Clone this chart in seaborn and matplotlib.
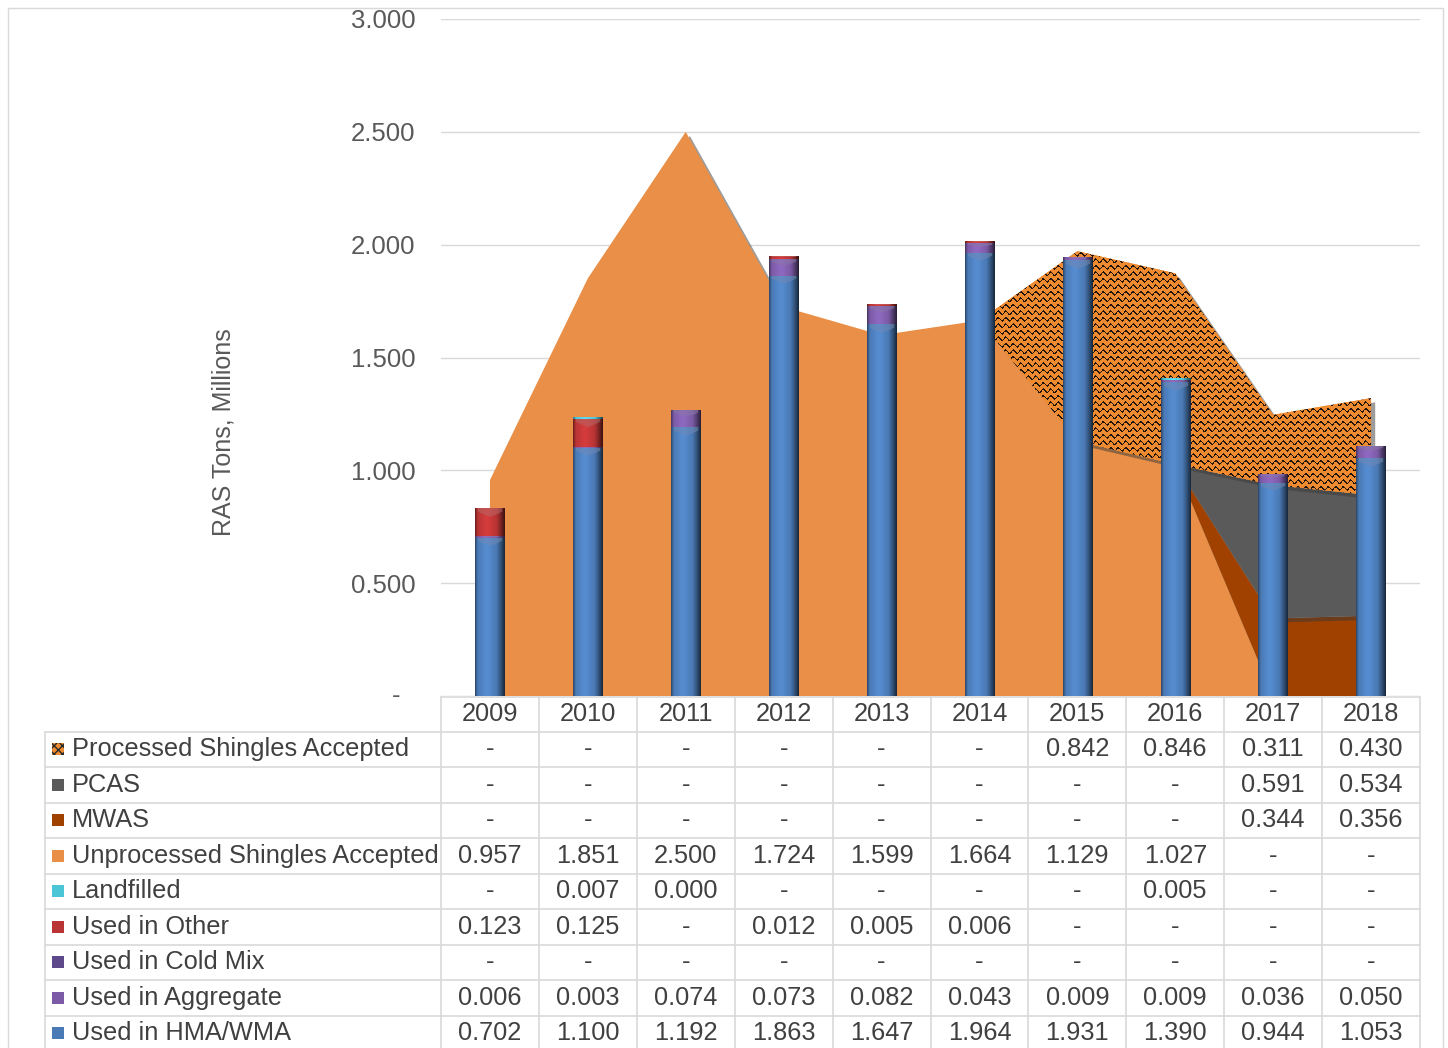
import numpy as np
import pandas as pd
import matplotlib
matplotlib.use("Agg")
import matplotlib.pyplot as plt
import matplotlib.patheffects as pe
from matplotlib.patches import Rectangle
from matplotlib.lines import Line2D
from matplotlib.colors import to_rgb
import seaborn as sns

nan = np.nan

# ---- data (RAS tons, millions); nan = no value ("-") ----
years = ["2009", "2010", "2011", "2012", "2013", "2014", "2015", "2016", "2017", "2018"]
processed_shingles = [nan, nan, nan, nan, nan, nan, 0.842, 0.846, 0.311, 0.430]
pcas = [nan, nan, nan, nan, nan, nan, nan, nan, 0.591, 0.534]
mwas = [nan, nan, nan, nan, nan, nan, nan, nan, 0.344, 0.356]
unprocessed_shingles = [0.957, 1.851, 2.500, 1.724, 1.599, 1.664, 1.129, 1.027, nan, nan]
landfilled = [nan, 0.007, 0.000, nan, nan, nan, nan, 0.005, nan, nan]
used_other = [0.123, 0.125, nan, 0.012, 0.005, 0.006, nan, nan, nan, nan]
used_cold_mix = [nan, nan, nan, nan, nan, nan, nan, nan, nan, nan]
used_aggregate = [0.006, 0.003, 0.074, 0.073, 0.082, 0.043, 0.009, 0.009, 0.036, 0.050]
used_hma = [0.702, 1.100, 1.192, 1.863, 1.647, 1.964, 1.931, 1.390, 0.944, 1.053]

# ---- colours ----
C_PROC = "#EE8A30"
C_PCAS = "#5A5A5A"
C_MWAS = "#A04100"
C_UNPROC = "#E98F47"
C_LAND = "#4BC6D6"
C_OTHER = "#B93434"
C_COLD = "#5E4A8A"
C_AGG = "#7C5BA6"
C_HMA = "#4A7AB5"
GRID = "#D9D9D9"
TXT = "#404040"

sns.set_theme(style="white")
plt.rcParams["font.family"] = ["Liberation Sans", "DejaVu Sans"]

W, H = 1448, 1048
fig = plt.figure(figsize=(W / 100, H / 100), dpi=100)
fig.patch.set_facecolor("white")

def fx(px):
    return px / W

def fy(py):
    return 1 - py / H

AX_L, AX_R, AX_T, AX_B = 441, 1420, 19, 696
ax = fig.add_axes([fx(AX_L), fy(AX_B), (AX_R - AX_L) / W, (AX_B - AX_T) / H])
ax.set_facecolor("none")

n = len(years)
x = np.arange(n)
val = lambda s: np.nan_to_num(np.asarray(s, dtype=float))

# ---- stacked areas (shingles accepted) ----
shadow = [pe.SimplePatchShadow(offset=(3, -3), shadow_rgbFace="#3a3a3a", alpha=0.5), pe.Normal()]
area_layers = [
    (unprocessed_shingles, C_UNPROC),
    (mwas, C_MWAS),
    (pcas, C_PCAS),
    (processed_shingles, C_PROC),
]
base = np.zeros(n)
area_polys = []
for series, color in area_layers:
    top = base + val(series)
    poly = ax.fill_between(x, base, top, color=color, lw=0, zorder=1, path_effects=shadow)
    area_polys.append(poly)
    base = top

# wavy texture for processed shingles
ax_w, ax_h = AX_R - AX_L, AX_B - AX_T
jj, ii = np.meshgrid(np.arange(ax_w), np.arange(ax_h))
phase = np.mod(ii + 1.6 * np.sin(2 * np.pi * jj / 7.5), 6.5)
dark = phase < 1.6
tex = np.ones((ax_h, ax_w, 3)) * np.array(to_rgb(C_PROC))
tex[dark] = np.array([0.13, 0.08, 0.04])
im = ax.imshow(tex, extent=(-0.5, n - 0.5, 0, 3), origin="upper", aspect="auto",
               interpolation="nearest", zorder=1.2)
im.set_clip_path(area_polys[-1].get_paths()[0], transform=ax.transData)

# ---- stacked columns (RAS usage) ----
bar_layers = [
    (used_hma, C_HMA),
    (used_aggregate, C_AGG),
    (used_cold_mix, C_COLD),
    (used_other, C_OTHER),
    (landfilled, C_LAND),
]
cums = np.cumsum([val(s) for s, _ in bar_layers], axis=0)
BAR_W = 0.3
for k in range(len(bar_layers) - 1, -1, -1):
    df = pd.DataFrame({"year": years, "tons": cums[k]})
    sns.barplot(data=df, x="year", y="tons", color=bar_layers[k][1], width=BAR_W,
                saturation=1, errorbar=None, linewidth=0, ax=ax, zorder=2)

def bevel_image(color, ny, nx=32):
    rgb = np.array(to_rgb(color))
    u = (np.arange(nx) + 0.5) / nx
    prof = np.ones(nx)
    prof += 0.15 * np.exp(-((u - 0.40) / 0.2) ** 2)
    prof *= np.where(u > 0.70, 1 - 0.70 * ((u - 0.70) / 0.30) ** 1.2, 1)
    prof *= np.where(u < 0.10, 0.55 + 0.45 * (u / 0.10), 1)
    img = np.tile(prof[None, :, None], (ny, 1, 1)) * rgb[None, None, :]
    r = np.arange(ny)[:, None] + 0.5
    depth = min(9.0, ny * 0.4)
    chev = (r < depth * (1 - np.abs(u[None, :] - 0.5) * 1.4)) & (u[None, :] > 0.08) & (u[None, :] < 0.9)
    light = img * 0.6 + 0.4
    img = np.where(chev[..., None], light * rgb * 0.5 + light * 0.5, img)
    return np.clip(img, 0, 1)

px_per_unit = ax_h / 3.0
for k, (series, color) in enumerate(bar_layers):
    lo = cums[k - 1] if k > 0 else np.zeros(n)
    hi = cums[k]
    for i in range(n):
        if hi[i] - lo[i] <= 0:
            continue
        ny = max(2, int(round((hi[i] - lo[i]) * px_per_unit)))
        ax.imshow(bevel_image(color, ny), extent=(i - BAR_W / 2, i + BAR_W / 2, lo[i], hi[i]),
                  origin="upper", aspect="auto", interpolation="bilinear", zorder=2.5)

# ---- axes styling ----
ax.set_xlim(-0.5, n - 0.5)
ax.set_ylim(0, 3)
ticks = np.arange(0, 3.01, 0.5)
ax.set_yticks(ticks)
ax.set_yticklabels(["" if t == 0 else f"{t:.3f}" for t in ticks])
ax.tick_params(axis="y", length=0, pad=18.5, labelsize=18.5, labelcolor="#595959")
ax.tick_params(axis="x", length=0, labelbottom=False)
ax.set_xlabel("")
ax.set_ylabel("")
ax.grid(axis="y", color=GRID, lw=1)
ax.grid(axis="x", visible=False)
ax.set_axisbelow(True)
for s in ax.spines.values():
    s.set_visible(False)
ax.annotate("-", xy=(0, 0), xycoords=("axes fraction", "data"), xytext=(-41, 0),
            textcoords="offset pixels", ha="right", va="center", fontsize=18.5, color="#595959")

fig.text(fx(224), fy(432), "RAS Tons, Millions", rotation=90, ha="center", va="center",
         fontsize=18, color="#595959")

# ---- data table ----
col_w = (AX_R - AX_L) / n
HEAD_TOP, ROW0, ROW_H = 697, 731.5, 35.5
table_rows = [
    ("Processed Shingles Accepted", processed_shingles, C_PROC),
    ("PCAS", pcas, C_PCAS),
    ("MWAS", mwas, C_MWAS),
    ("Unprocessed Shingles Accepted", unprocessed_shingles, C_UNPROC),
    ("Landfilled", landfilled, C_LAND),
    ("Used in Other", used_other, C_OTHER),
    ("Used in Cold Mix", used_cold_mix, C_COLD),
    ("Used in Aggregate", used_aggregate, C_AGG),
    ("Used in HMA/WMA", used_hma, C_HMA),
]
bottom_px = ROW0 + ROW_H * len(table_rows)

def hline(y, x0, x1):
    fig.add_artist(Line2D([fx(x0), fx(x1)], [fy(y), fy(y)], color=GRID, lw=1.2))

def vline(xp, y0, y1):
    fig.add_artist(Line2D([fx(xp), fx(xp)], [fy(y0), fy(y1)], color=GRID, lw=1.2))

hline(HEAD_TOP, AX_L, AX_R)
for r in range(len(table_rows) + 1):
    hline(ROW0 + r * ROW_H, 45, AX_R)
vline(45, ROW0, bottom_px)
for c in range(n + 1):
    vline(AX_L + c * col_w, HEAD_TOP, bottom_px)

for c, yr in enumerate(years):
    fig.text(fx(AX_L + (c + 0.5) * col_w), fy((HEAD_TOP + ROW0) / 2), yr,
             ha="center", va="center", fontsize=18.3, color=TXT)

for r, (label, series, color) in enumerate(table_rows):
    yc = ROW0 + (r + 0.5) * ROW_H
    key = Rectangle((fx(52), fy(yc + 6)), 12 / W, 12 / H, transform=fig.transFigure,
                    facecolor=color, edgecolor="#2a2a2a" if r == 0 else color, lw=0,
                    hatch="xxxx" if r == 0 else None)
    fig.add_artist(key)
    fig.text(fx(72), fy(yc), label, ha="left", va="center", fontsize=18.3, color=TXT)
    for c, v in enumerate(series):
        s = "-" if np.isnan(v) else f"{v:.3f}"
        fig.text(fx(AX_L + (c + 0.5) * col_w), fy(yc), s, ha="center", va="center",
                 fontsize=18.3, color=TXT)

# chart frame
fig.add_artist(Rectangle((fx(8), fy(1050)), (1443 - 8) / W, (1050 - 8) / H,
                         transform=fig.transFigure, fill=False, edgecolor=GRID, lw=1))

fig.savefig("out.png", dpi=100)
